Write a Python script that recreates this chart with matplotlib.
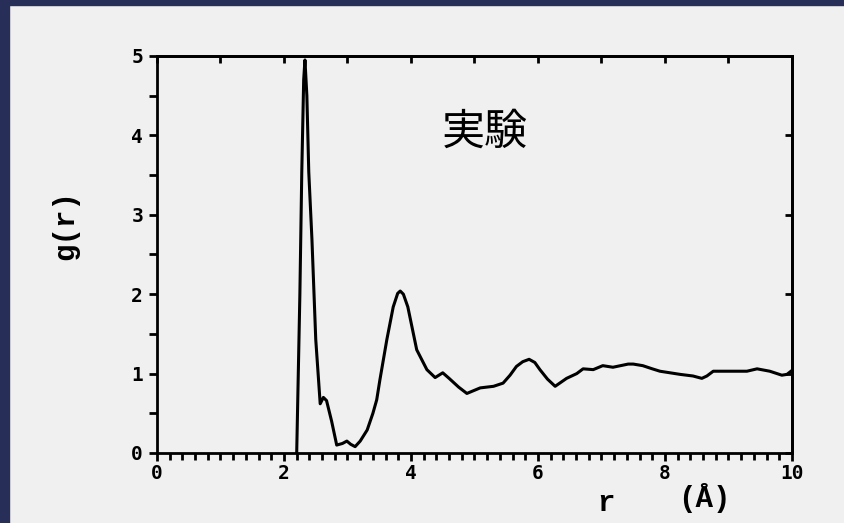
import matplotlib
matplotlib.use('Agg')
import matplotlib.pyplot as plt
from matplotlib.patches import Rectangle
from matplotlib.ticker import MultipleLocator

# g(r)
r = [2.20, 2.25, 2.28, 2.31, 2.33, 2.36, 2.39, 2.44, 2.50, 2.57, 2.62, 2.67,
     2.75, 2.83, 2.92, 2.99, 3.05, 3.12, 3.20, 3.31, 3.40, 3.46, 3.51, 3.62,
     3.72, 3.79, 3.83, 3.88, 3.95, 4.09, 4.25, 4.38, 4.50, 4.60, 4.75, 4.88,
     5.00, 5.09, 5.30, 5.45, 5.56, 5.66, 5.76, 5.86, 5.95, 6.03, 6.15, 6.27,
     6.45, 6.61, 6.71, 6.87, 7.02, 7.18, 7.30, 7.42, 7.50, 7.65, 7.80, 7.92,
     8.24, 8.44, 8.58, 8.66, 8.76, 9.07, 9.29, 9.45, 9.65, 9.84, 9.92, 10.0]
g = [0.00, 2.00, 3.54, 4.70, 4.95, 4.50, 3.54, 2.69, 1.43, 0.62, 0.70, 0.66,
     0.40, 0.10, 0.12, 0.15, 0.11, 0.08, 0.15, 0.29, 0.50, 0.67, 0.92, 1.43,
     1.84, 2.01, 2.04, 2.00, 1.84, 1.30, 1.05, 0.95, 1.01, 0.94, 0.83, 0.75,
     0.79, 0.82, 0.84, 0.88, 0.98, 1.09, 1.15, 1.18, 1.14, 1.05, 0.93, 0.84,
     0.94, 1.00, 1.06, 1.05, 1.10, 1.08, 1.10, 1.12, 1.12, 1.10, 1.06, 1.03,
     0.99, 0.97, 0.94, 0.97, 1.03, 1.03, 1.03, 1.06, 1.03, 0.98, 0.99, 1.04]

x_ticks = [0, 2, 4, 6, 8, 10]
y_ticks = [0, 1, 2, 3, 4, 5]

paper = '#f0f0f0'
navy = '#272e58'

fig = plt.figure(figsize=(8.45, 5.23), dpi=100, facecolor=paper)
# scan border
fig.patches.append(Rectangle((0, 0), 9 / 845, 1, transform=fig.transFigure, color=navy, zorder=0))
fig.patches.append(Rectangle((0, 1 - 5 / 523), 1, 5 / 523, transform=fig.transFigure, color=navy, zorder=0))

ax = fig.add_axes([157 / 845, 70 / 523, 635 / 845, 397 / 523])
ax.set_facecolor(paper)
ax.plot(r, g, color='black', lw=2.2, solid_joinstyle='round')
ax.set_xlim(0, 10)
ax.set_ylim(0, 5)

for s in ax.spines.values():
    s.set_linewidth(2.0)

tickfont = {'family': 'DejaVu Sans Mono', 'weight': 'bold', 'size': 14}
ax.set_xticks(x_ticks)
ax.set_xticklabels([str(t) for t in x_ticks], fontdict=tickfont)
ax.set_yticks(y_ticks)
ax.set_yticklabels([str(t) for t in y_ticks], fontdict=tickfont)
ax.xaxis.set_minor_locator(MultipleLocator(0.2))
ax.yaxis.set_minor_locator(MultipleLocator(0.5))
ax.tick_params(axis='x', which='major', direction='out', length=6, width=2, pad=2,
               top=False, bottom=True)
ax.tick_params(axis='x', which='minor', direction='out', length=5, width=2, top=False)
ax.tick_params(axis='y', which='major', direction='out', length=6, width=2, pad=4,
               right=False, left=True)
ax.tick_params(axis='y', which='minor', direction='out', length=6, width=2, right=False)

# top and right: short inward ticks at integers, no labels
top = ax.secondary_xaxis('top')
top.set_xticks(range(0, 11))
top.tick_params(direction='in', length=5, width=2, labeltop=False)
top.spines['top'].set_linewidth(2.0)
right = ax.secondary_yaxis('right')
right.set_yticks(range(0, 6))
right.tick_params(direction='in', length=5, width=2, labelright=False)
right.spines['right'].set_linewidth(2.0)

ax.text(0.516, 0.807, '実験', transform=ax.transAxes, ha='center', va='center',
        fontsize=31, family=['Noto Sans CJK JP', 'DejaVu Sans'])

labfont = dict(family='Liberation Mono', weight='bold', size=21)
fig.text(65 / 845, 1 - 225 / 523, 'g(r)', rotation=90, ha='center', va='center', **labfont)
fig.text(606 / 845, 1 - 503 / 523, 'r', ha='center', va='center', **labfont)
fig.text(704 / 845, 1 - 498 / 523, '(Å)', ha='center', va='center', **labfont)

fig.savefig('out.png', dpi=100, facecolor=paper)
